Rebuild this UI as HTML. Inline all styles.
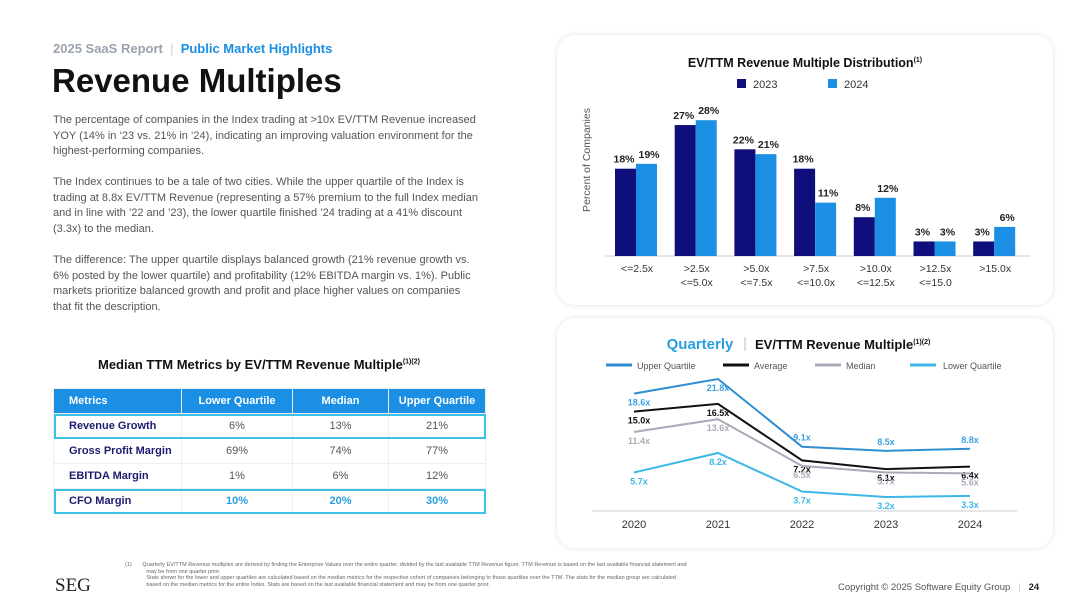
<!DOCTYPE html>
<html><head><meta charset="utf-8"><style>
body{margin:0;width:1080px;height:608px;background:#fff;font-family:"Liberation Sans",sans-serif;position:relative;overflow:hidden}
.a{position:absolute;white-space:nowrap}
.p{font-size:11px;color:#555;line-height:15.7px;position:absolute;left:53px;white-space:nowrap}
.panel{position:absolute;background:#fff;border-radius:18px;box-shadow:0 0 6px rgba(0,0,0,0.12)}
table{border-collapse:collapse;position:absolute;left:53px;top:388px;width:433px;font-size:11px}
td,th{height:24px;text-align:center;border:1px solid #eee;padding:0}
th{background:#1a8fe3;color:#fff;font-weight:bold}
td.m{text-align:left;padding-left:15px;color:#1c1c6e;font-weight:bold}
td{color:#555}
</style></head><body>
<div class="a" style="left:53px;top:41px;font-size:13px;font-weight:bold;color:#9aa3ad">2025 SaaS Report <span style="color:#ccc;font-weight:normal">&nbsp;|&nbsp;</span> <span style="color:#1a8fe3">Public Market Highlights</span></div>
<div class="a" style="left:52px;top:62px;font-size:33px;font-weight:bold;color:#111">Revenue Multiples</div>
<div class="p" style="top:113px">The percentage of companies in the Index trading at &gt;10x EV/TTM Revenue increased<br>YOY (14% in ‘23 vs. 21% in ‘24), indicating an improving valuation environment for the<br>highest-performing companies.</div>
<div class="p" style="top:175px">The Index continues to be a tale of two cities. While the upper quartile of the Index is<br>trading at 8.8x EV/TTM Revenue (representing a 57% premium to the full Index median<br>and in line with ’22 and ’23), the lower quartile finished ’24 trading at a 41% discount<br>(3.3x) to the median.</div>
<div class="p" style="top:253px">The difference: The upper quartile displays balanced growth (21% revenue growth vs.<br>6% posted by the lower quartile) and profitability (12% EBITDA margin vs. 1%). Public<br>markets prioritize balanced growth and profit and place higher values on companies<br>that fit the description.</div>

<div class="a" style="left:98px;top:357px;font-size:13px;font-weight:bold;color:#111">Median TTM Metrics by EV/TTM Revenue Multiple<sup style="font-size:7px">(1)(2)</sup></div>
<table>
<tr><th style="text-align:left;padding-left:15px;width:112px">Metrics</th><th style="width:110px">Lower Quartile</th><th style="width:95px">Median</th><th>Upper Quartile</th></tr>
<tr style="outline:2px solid #3cc0e6;outline-offset:-2px"><td class="m">Revenue Growth</td><td>6%</td><td>13%</td><td>21%</td></tr>
<tr><td class="m">Gross Profit Margin</td><td>69%</td><td>74%</td><td>77%</td></tr>
<tr><td class="m">EBITDA Margin</td><td>1%</td><td>6%</td><td>12%</td></tr>
<tr style="outline:2px solid #3cc0e6;outline-offset:-2px"><td class="m">CFO Margin</td><td style="color:#2a9ee0;font-weight:bold">10%</td><td style="color:#2a9ee0;font-weight:bold">20%</td><td style="color:#2a9ee0;font-weight:bold">30%</td></tr>
</table>

<div class="panel" style="left:557px;top:35px;width:496px;height:270px"></div>
<div class="panel" style="left:557px;top:318px;width:496px;height:230px"></div>

<svg id="bar" class="a" style="left:0;top:0" width="1080" height="608">
<text x="805" y="67" text-anchor="middle" font-size="12.5" font-weight="bold" fill="#111">EV/TTM Revenue Multiple Distribution<tspan font-size="7" dy="-5">(1)</tspan></text>
<rect x="737" y="79" width="9" height="9" fill="#0e0f7a"/><text x="753" y="88" font-size="11" fill="#333">2023</text>
<rect x="828" y="79" width="9" height="9" fill="#1a8fe3"/><text x="844" y="88" font-size="11" fill="#333">2024</text>
<text transform="translate(590,160) rotate(-90)" text-anchor="middle" font-size="10.5" fill="#555">Percent of Companies</text>
</svg>
<svg id="line" class="a" style="left:0;top:0" width="1080" height="608">
<text x="700" y="349" text-anchor="middle" font-size="15" font-weight="bold" fill="#2a9ee0">Quarterly</text>
<line x1="745" y1="337" x2="745" y2="351" stroke="#bbb"/>
<text x="755" y="349" font-size="13" font-weight="bold" fill="#111">EV/TTM Revenue Multiple<tspan font-size="7" dy="-5">(1)(2)</tspan></text>
</svg>

<div class="a" style="left:125px;top:562px;font-size:5.5px;color:#666;line-height:6.5px">(1)&nbsp;&nbsp;&nbsp;&nbsp;&nbsp;&nbsp; Quarterly EV/TTM Revenue multiples are derived by finding the Enterprise Values over the entire quarter, divided by the last available TTM Revenue figure. TTM Revenue is based on the last available financial statement and<br>&nbsp;&nbsp;&nbsp;&nbsp;&nbsp;&nbsp;&nbsp;&nbsp;&nbsp;&nbsp;&nbsp;&nbsp;&nbsp; may be from one quarter prior.<br>&nbsp;&nbsp;&nbsp;&nbsp;&nbsp;&nbsp;&nbsp;&nbsp;&nbsp;&nbsp;&nbsp;&nbsp;&nbsp; Stats shown for the lower and upper quartiles are calculated based on the median metrics for the respective cohort of companies belonging to those quartiles over the TTM. The stats for the median group are calculated<br>&nbsp;&nbsp;&nbsp;&nbsp;&nbsp;&nbsp;&nbsp;&nbsp;&nbsp;&nbsp;&nbsp;&nbsp;&nbsp; based on the median metrics for the entire Index. Stats are based on the last available financial statement and may be from one quarter prior.</div>
<div class="a" style="left:55px;top:575px;font-family:'Liberation Serif',serif;font-size:19px;color:#222">SEG</div>
<div class="a" style="left:838px;top:582px;font-size:9.5px;color:#555">Copyright © 2025 Software Equity Group <span style="color:#ccc">&nbsp;&nbsp;|&nbsp;&nbsp;</span> <b style="color:#222">24</b></div>

<script>
const NS="http://www.w3.org/2000/svg";
function mk(p,t,a){const e=document.createElementNS(NS,t);for(const k in a)e.setAttribute(k,a[k]);p.appendChild(e);return e;}
// Bar chart data
const barCats=[["<=2.5x"],[">2.5x","<=5.0x"],[">5.0x","<=7.5x"],[">7.5x","<=10.0x"],[">10.0x","<=12.5x"],[">12.5x","<=15.0"],[">15.0x"]];
const vals2023=[18,27,22,18,8,3,3];
const vals2024=[19,28,21,11,12,3,6];
const bar=document.getElementById('bar');
const base=256, x0=637, step=59.7;
function by(v){return base-4.85*v;}
mk(bar,'line',{x1:605,y1:base,x2:1030,y2:base,stroke:'#ccc'});
barCats.forEach((c,i)=>{
  const cx=x0+i*step;
  const r1=mk(bar,'rect',{x:cx-22,y:by(vals2023[i]),width:21,height:base-by(vals2023[i]),fill:'#0e0f7a'});
  
  
  const r2=mk(bar,'rect',{x:cx-1,y:by(vals2024[i]),width:21,height:base-by(vals2024[i]),fill:'#1a8fe3'});
  
  
  mk(bar,'text',{x:cx-13,y:by(vals2023[i])-6,'text-anchor':'middle','font-size':10.5,'font-weight':'bold',fill:'#222'}).textContent=vals2023[i]+'%';
  mk(bar,'text',{x:cx+12,y:by(vals2024[i])-6,'text-anchor':'middle','font-size':10.5,'font-weight':'bold',fill:'#222'}).textContent=vals2024[i]+'%';
  c.forEach((l,j)=>{mk(bar,'text',{x:cx,y:272+j*14,'text-anchor':'middle','font-size':10.5,fill:'#333'}).textContent=l;});
});
// Line chart data
const years=["2020","2021","2022","2023","2024"];
const upper=[18.6,21.8,9.1,8.5,8.8];
const average=[15.0,16.5,7.2,6.1,6.4];
const median=[11.4,13.6,6.5,5.7,5.6];
const lower=[5.7,8.2,3.7,3.2,3.3];
const line=document.getElementById('line');
function lx(i){return 634+i*84;}
function ly(v){return 570.3-40.97*Math.sqrt(v);}
mk(line,'line',{x1:592,y1:511,x2:1017,y2:511,stroke:'#ccc'});
years.forEach((y,i)=>{mk(line,'text',{x:lx(i),y:528,'text-anchor':'middle','font-size':11,fill:'#333'}).textContent=y;});
const series=[["Upper Quartile",upper,'#2f8fd0',606],["Average",average,'#111',723],["Median",median,'#a8acb8',815],["Lower Quartile",lower,'#3cb8e6',910]];
series.forEach((s,si)=>{
  mk(line,'line',{x1:s[3],y1:365,x2:s[3]+26,y2:365,stroke:s[2],'stroke-width':3});
  mk(line,'text',{x:s[3]+(s[0]=="Lower Quartile"?33:31),y:369,'font-size':9,fill:'#555'}).textContent=s[0];
  const pl=mk(line,'polyline',{points:s[1].map((v,i)=>lx(i)+','+ly(v)).join(' '),fill:'none',stroke:s[2],'stroke-width':2});
  
  
  s[1].forEach((v,i)=>{const off=(si==0&&i>=2)?-6:12;mk(line,'text',{x:lx(i)+(i==0?5:0),y:ly(v)+off,'text-anchor':'middle','font-size':9,'font-weight':'bold',fill:s[2]=='#2f8fd0'?'#3aa0e0':s[2]}).textContent=v.toFixed(1)+'x';});
});
</script>
</body></html>
